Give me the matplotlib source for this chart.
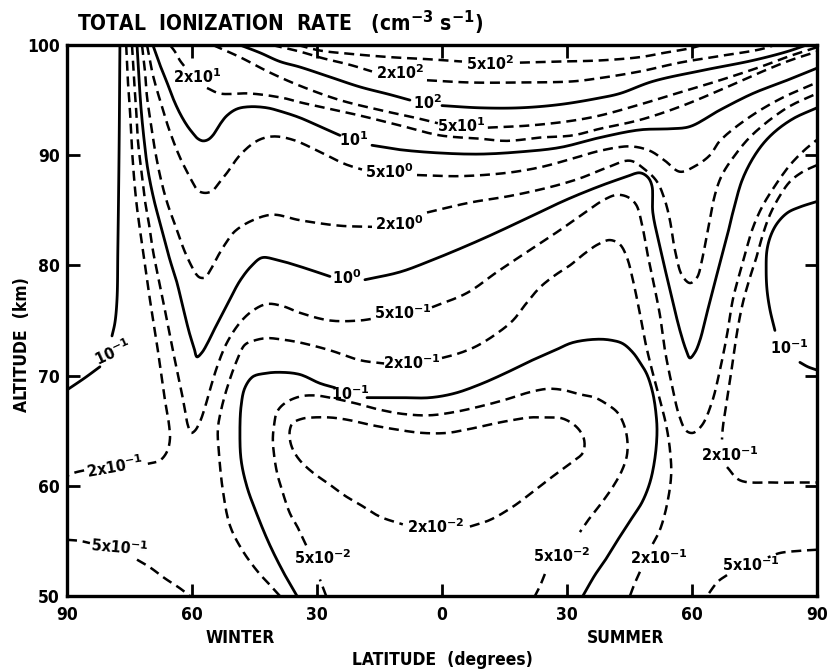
import numpy as np
import matplotlib
matplotlib.use("Agg")
import matplotlib.pyplot as plt
from matplotlib.font_manager import FontProperties

# Isolines of total ionization rate, traced as (latitude, altitude km).
# Negative latitude = winter hemisphere, positive = summer hemisphere.

iso_5e2_a = [(-34.6, 100.0), (-29.3, 99.5), (-22.1, 99.2), (-12.5, 98.9), (-2.9, 98.7), (4.8, 98.5)]
iso_5e2_b = [(18.7, 98.4), (28.3, 98.5), (37.9, 98.6), (47.5, 98.9), (53.5, 99.3), (59.5, 99.7), (62.4, 100.0)]

iso_2e2_a = [(-40.8, 100.0), (-34.1, 99.4), (-28.6, 98.8), (-22.1, 98.2), (-16.8, 97.6)]
iso_2e2_b = [(-3.6, 96.8), (6.7, 96.6), (18.7, 96.6), (31.4, 96.7), (37.9, 97.0), (47.5, 97.6),
             (57.1, 98.4), (66.7, 99.0), (76.3, 99.6), (79.9, 100.0)]

iso_1e2_a = [(-48.5, 100.0), (-43.7, 99.3), (-38.9, 98.5), (-34.1, 98.0), (-26.9, 97.1), (-19.7, 96.2),
             (-12.5, 95.5), (-7.7, 95.0)]
iso_1e2_b = [(0.0, 94.5), (9.1, 94.3), (18.7, 94.3), (28.3, 94.6), (37.9, 95.2), (42.7, 95.6), (50.6, 96.7),
             (62.6, 97.7), (74.6, 98.6), (82.8, 99.4), (87.5, 100.0)]

iso_5e1_a = [(-55.0, 100.0), (-48.5, 98.9), (-41.3, 97.5), (-34.1, 96.3), (-24.5, 95.0), (-14.9, 94.1),
             (-5.3, 93.3), (-1.0, 92.9)]
iso_5e1_b = [(11.0, 92.5), (21.1, 92.7), (30.7, 93.1), (37.9, 93.6), (47.5, 94.6), (57.1, 95.7), (66.7, 96.8),
             (76.3, 98.0), (83.5, 99.0), (90.0, 99.8)]

iso_2e1_a = [(-65.3, 100.0), (-64.1, 99.4), (-62.9, 98.6), (-61.9, 98.1)]
iso_2e1_b = [(-56.4, 96.1), (-53.3, 95.6), (-46.1, 95.6), (-38.2, 95.2), (-34.1, 94.8), (-26.9, 94.2),
             (-19.7, 93.6), (-10.1, 92.7), (-0.5, 91.8), (9.1, 91.5), (15.6, 91.3), (23.5, 91.6), (31.4, 91.8),
             (37.9, 92.4), (47.5, 93.2), (57.1, 94.4), (66.7, 95.9), (76.3, 97.5), (83.5, 98.6), (90.0, 99.4)]

iso_1e1_a = [(-69.4, 100.0), (-67.7, 98.2), (-66.0, 96.6), (-64.6, 95.2), (-62.9, 93.8), (-61.2, 92.7),
             (-59.8, 92.0), (-58.6, 91.5), (-57.4, 91.3), (-56.2, 91.4), (-55.0, 91.8), (-53.3, 92.8),
             (-51.6, 93.6), (-49.2, 94.2), (-46.1, 94.4), (-42.0, 94.3), (-38.9, 94.0), (-34.1, 93.4),
             (-29.3, 92.6), (-24.5, 91.8)]
iso_1e1_b = [(-16.8, 90.9), (-10.1, 90.5), (-0.5, 90.2), (9.1, 90.1), (18.7, 90.3), (28.3, 90.7), (37.9, 91.6),
             (47.5, 92.3), (54.7, 92.4), (59.5, 92.6), (66.7, 94.1), (74.6, 95.6), (82.8, 96.8), (90.0, 97.9)]

iso_5e0_a = [(-70.8, 100.0), (-70.1, 98.6), (-69.4, 97.3), (-68.4, 95.9), (-67.2, 94.4), (-66.0, 92.9),
             (-64.6, 91.4), (-62.9, 89.8), (-61.2, 88.5), (-59.8, 87.5), (-58.6, 86.8), (-57.4, 86.6),
             (-56.2, 86.6), (-55.0, 86.8), (-53.3, 87.6), (-51.6, 88.4), (-48.5, 90.0), (-44.4, 91.3),
             (-40.6, 91.7), (-35.8, 91.4), (-29.3, 90.3), (-23.3, 89.2), (-19.2, 88.7)]
iso_5e0_b = [(-6.0, 88.2), (4.3, 88.1), (15.6, 88.4), (23.5, 88.9), (31.4, 89.7), (37.9, 90.4), (45.1, 90.8),
             (49.9, 90.4), (53.5, 89.5), (57.1, 88.5), (60.7, 89.0), (64.3, 90.0), (66.7, 91.3), (73.2, 93.3),
             (81.1, 95.1), (90.0, 96.6)]

iso_2e0_a = [(-72.0, 100.0), (-71.3, 97.7), (-70.8, 95.3), (-69.8, 92.7), (-68.9, 90.5), (-67.4, 87.7),
             (-65.8, 85.5), (-63.8, 83.4), (-61.9, 81.4), (-60.2, 80.0), (-59.0, 79.2), (-58.1, 78.9),
             (-56.9, 78.9), (-55.7, 79.5), (-54.0, 80.7), (-52.1, 81.9), (-49.7, 83.1), (-45.4, 84.1),
             (-40.6, 84.6), (-34.1, 84.1), (-24.5, 83.6), (-16.8, 83.5)]
iso_2e0_b = [(-3.6, 84.8), (6.7, 85.7), (16.3, 86.3), (25.9, 87.1), (33.1, 87.9), (39.1, 88.8), (45.1, 89.5),
             (48.7, 88.7), (51.6, 87.6), (53.5, 85.9), (54.7, 84.1), (55.9, 81.4), (57.6, 79.1), (59.5, 78.4),
             (61.2, 78.9), (62.4, 80.5), (63.8, 83.2), (65.5, 86.4), (67.2, 88.2), (70.3, 90.0), (74.6, 91.9),
             (82.8, 94.3), (90.0, 95.6)]

iso_1e0_a = [(-73.2, 100.0), (-72.7, 96.8), (-72.2, 94.1), (-71.5, 91.4), (-70.6, 88.7), (-69.1, 85.9),
             (-67.2, 83.2), (-65.3, 80.5), (-63.8, 78.7), (-62.6, 76.9), (-61.4, 75.0), (-60.5, 73.7),
             (-59.5, 72.5), (-58.8, 71.7), (-57.6, 72.1), (-56.2, 73.0), (-54.5, 74.3), (-51.6, 76.4),
             (-48.5, 78.6), (-45.6, 80.0), (-43.2, 80.7), (-39.6, 80.5), (-34.1, 79.9), (-26.9, 79.0)]
iso_1e0_b = [(-18.5, 78.7), (-10.1, 79.4), (-2.9, 80.4), (9.1, 82.3), (21.1, 84.4), (29.5, 85.9), (37.9, 87.2),
             (43.9, 88.0), (47.5, 88.4), (49.4, 88.0), (50.4, 87.2), (50.6, 84.8), (52.3, 81.7), (54.7, 77.8),
             (57.1, 74.1), (58.6, 72.3), (59.5, 71.6), (60.7, 72.1), (61.9, 73.2), (63.6, 75.7), (65.3, 78.2),
             (66.7, 80.2), (68.4, 82.6), (69.8, 84.8), (72.2, 87.9), (75.6, 90.3), (79.2, 91.9), (84.2, 93.3),
             (90.0, 94.3)]

iso_5em1_a = [(-74.4, 100.0), (-73.9, 96.8), (-73.4, 94.1), (-73.0, 91.4), (-72.2, 88.7), (-71.3, 85.9),
              (-70.3, 83.7), (-69.4, 81.4), (-68.2, 79.1), (-67.0, 76.9), (-65.8, 74.6), (-64.6, 72.3),
              (-63.6, 70.5), (-62.6, 68.7), (-61.7, 66.9), (-61.0, 65.5), (-60.2, 64.8), (-59.3, 65.0),
              (-58.1, 65.8), (-56.9, 67.1), (-55.7, 68.7), (-53.8, 71.0), (-51.6, 73.0), (-48.5, 74.8),
              (-45.4, 75.9), (-42.0, 76.5), (-38.2, 76.3), (-34.1, 75.7), (-26.9, 75.0), (-19.7, 75.0),
              (-16.1, 75.2)]
iso_5em1_b = [(-2.4, 76.2), (6.0, 77.5), (13.2, 79.4), (21.1, 81.4), (28.3, 83.2), (34.3, 84.8), (39.1, 86.0),
              (42.0, 86.4), (44.6, 86.2), (46.6, 85.5), (48.0, 83.7), (49.4, 80.9), (50.9, 78.2), (52.3, 75.5),
              (53.5, 72.3), (55.2, 69.1), (56.9, 66.4), (58.6, 65.0), (60.2, 64.8), (62.4, 65.5), (64.8, 67.6),
              (66.7, 70.5), (68.4, 73.7), (69.8, 76.9), (71.3, 79.1), (73.0, 81.4), (74.6, 83.4), (76.8, 85.3),
              (79.7, 87.1), (83.5, 89.1), (87.1, 90.5), (90.0, 91.4)]
iso_5em1_c = [(-90.0, 55.1), (-86.9, 55.0), (-84.5, 54.8)]
iso_5em1_d = [(-73.2, 53.3), (-70.1, 52.6), (-66.5, 51.6), (-62.9, 50.7), (-60.5, 50.0)]
iso_5em1_e = [(90.0, 54.2), (85.9, 54.1), (81.1, 53.9), (78.2, 53.5)]
iso_5em1_f = [(68.4, 51.9), (66.2, 51.3), (63.6, 50.0)]

iso_2em1_a = [(-75.8, 100.0), (-75.4, 96.8), (-74.9, 94.1), (-74.4, 90.5), (-73.4, 85.9), (-71.8, 81.4),
              (-70.1, 76.9), (-68.2, 72.3), (-66.5, 67.8), (-65.5, 65.5), (-65.3, 64.2), (-66.0, 63.1),
              (-67.7, 62.3), (-70.6, 62.0)]
iso_2em1_b = [(-85.9, 61.4), (-88.1, 61.2), (-90.0, 60.9)]
iso_2em1_c = [(-38.9, 50.0), (-40.8, 50.8), (-44.2, 52.2), (-48.0, 54.2), (-50.9, 56.4), (-52.6, 59.6),
              (-53.5, 62.8), (-53.8, 65.1), (-53.0, 66.9), (-51.4, 69.1), (-49.2, 71.4), (-47.3, 72.8),
              (-44.9, 73.2), (-42.0, 73.4), (-38.9, 73.3), (-34.1, 73.0), (-26.9, 72.3), (-19.7, 71.4),
              (-13.9, 71.1)]
iso_2em1_d = [(0.0, 71.6), (3.1, 71.9), (7.9, 72.6), (12.7, 73.7), (17.0, 75.0), (19.9, 76.4), (23.5, 78.0),
              (27.1, 79.1), (30.7, 80.0), (34.3, 81.1), (37.4, 81.9), (40.3, 82.3), (42.7, 81.9), (44.4, 80.7),
              (45.8, 78.7), (47.3, 76.0), (48.7, 73.2), (50.4, 70.5), (52.3, 67.8), (53.8, 65.5), (54.7, 63.3),
              (55.0, 61.0), (54.0, 58.3), (52.3, 56.0), (50.4, 54.6)]
iso_2em1_e = [(47.5, 52.2), (46.1, 51.0), (45.1, 50.0)]
iso_2em1_f = [(90.0, 89.1), (86.6, 88.5), (83.5, 87.6), (80.9, 86.2), (78.7, 84.6), (77.0, 82.8), (75.6, 80.9),
              (73.9, 78.9), (72.2, 76.6), (70.8, 73.9), (69.6, 70.8), (68.4, 67.8), (67.4, 65.3), (67.2, 64.2)]
iso_2em1_g = [(68.4, 61.7), (71.5, 60.5), (79.4, 60.3), (85.9, 60.3), (90.0, 60.3)]

iso_1em1_a = [(-77.3, 100.0), (-77.5, 90.5), (-77.8, 81.4), (-78.0, 76.9), (-78.5, 74.8), (-79.2, 73.6)]
iso_1em1_b = [(-82.1, 70.8), (-85.7, 69.8), (-90.0, 68.7)]
iso_1em1_c = [(-34.8, 50.0), (-37.7, 51.9), (-41.3, 54.6), (-44.4, 57.4), (-46.8, 59.9), (-48.2, 62.3),
              (-48.5, 64.8), (-48.2, 67.3), (-47.3, 68.9), (-45.4, 69.9), (-42.5, 70.2), (-38.9, 70.3),
              (-34.1, 70.1), (-29.3, 69.3), (-25.7, 68.9)]
iso_1em1_d = [(-18.0, 68.0), (-10.1, 68.0), (-2.9, 68.0), (3.1, 68.4), (9.1, 69.2), (15.1, 70.2), (21.1, 71.3),
              (27.1, 72.3), (31.4, 73.0), (37.2, 73.3), (40.8, 73.2), (43.4, 72.9), (45.8, 72.1), (47.5, 71.2),
              (49.2, 70.1), (50.6, 68.4), (51.4, 66.4), (51.6, 64.8), (51.1, 62.5), (49.9, 60.3), (48.0, 58.5),
              (45.8, 57.2), (42.7, 55.4), (39.6, 53.5), (36.7, 51.9), (33.8, 50.0)]
iso_1em1_e = [(90.0, 85.8), (85.9, 85.3), (83.0, 84.8), (80.6, 83.9), (79.0, 82.8), (78.0, 81.4), (77.8, 79.6),
              (78.0, 77.8), (78.7, 76.0), (79.9, 74.1)]
iso_1em1_f = [(85.9, 71.2), (87.8, 70.8), (90.0, 70.5)]

iso_5em2_a = [(-27.8, 50.0), (-29.3, 51.5)]
iso_5em2_b = [(-32.6, 54.6), (-34.6, 56.2), (-36.5, 57.5), (-38.4, 59.6), (-39.6, 61.2), (-40.3, 62.8),
              (-40.6, 64.2), (-40.3, 65.5), (-39.6, 66.7), (-37.7, 67.5), (-34.1, 68.1), (-30.5, 68.2),
              (-26.9, 68.0), (-20.9, 67.5), (-14.9, 66.9), (-8.9, 66.5), (-2.9, 66.4), (3.1, 66.7), (9.1, 67.2),
              (15.1, 67.8), (21.1, 68.5), (25.4, 68.8), (29.0, 68.7), (33.1, 68.3), (36.7, 68.0), (39.6, 67.4),
              (42.0, 66.7), (43.4, 65.8), (44.4, 64.4), (44.4, 62.8), (43.2, 61.4), (41.0, 59.9), (38.2, 58.4),
              (35.5, 57.1), (33.1, 55.8)]
iso_5em2_c = [(24.7, 52.0), (23.5, 50.9), (22.3, 50.0)]

iso_2em2_a = [(6.7, 56.3), (11.5, 56.9), (17.0, 58.1), (22.3, 59.6), (27.1, 61.0), (31.4, 62.2), (33.8, 63.0),
              (34.1, 64.2), (32.4, 65.3), (29.0, 66.1), (25.4, 66.2), (21.1, 66.2), (17.5, 66.0), (13.2, 65.7),
              (7.2, 65.2), (1.2, 64.8), (-4.8, 64.8), (-10.8, 65.1), (-16.8, 65.5), (-22.8, 66.0), (-26.9, 66.2),
              (-31.0, 66.2), (-33.4, 66.1), (-35.8, 65.7), (-36.5, 65.1), (-36.5, 64.2), (-35.8, 63.3),
              (-34.1, 62.3), (-31.0, 61.2), (-26.9, 60.1), (-23.3, 59.1), (-19.7, 58.3), (-14.9, 57.2),
              (-9.4, 56.5)]

solid_lines = [iso_1e2_a, iso_1e2_b, iso_1e1_a, iso_1e1_b, iso_1e0_a, iso_1e0_b,
               iso_1em1_a, iso_1em1_b, iso_1em1_c, iso_1em1_d, iso_1em1_e, iso_1em1_f]
dashed_lines = [iso_5e2_a, iso_5e2_b, iso_2e2_a, iso_2e2_b, iso_5e1_a, iso_5e1_b, iso_2e1_a, iso_2e1_b,
                iso_5e0_a, iso_5e0_b, iso_2e0_a, iso_2e0_b,
                iso_5em1_a, iso_5em1_b, iso_5em1_c, iso_5em1_d, iso_5em1_e, iso_5em1_f,
                iso_2em1_a, iso_2em1_b, iso_2em1_c, iso_2em1_d, iso_2em1_e, iso_2em1_f, iso_2em1_g,
                iso_5em2_a, iso_5em2_b, iso_5em2_c, iso_2em2_a]

# in-line level labels
label_text = ["2x10$^{1}$", "2x10$^{2}$", "5x10$^{2}$", "10$^{2}$", "5x10$^{1}$", "10$^{1}$",
              "5x10$^{0}$", "2x10$^{0}$", "10$^{0}$", "5x10$^{-1}$", "2x10$^{-1}$", "10$^{-1}$",
              "2x10$^{-2}$", "5x10$^{-2}$", "5x10$^{-2}$", "2x10$^{-1}$", "5x10$^{-1}$",
              "2x10$^{-1}$", "10$^{-1}$", "10$^{-1}$", "2x10$^{-1}$", "5x10$^{-1}$"]
label_lat = [-58.8, -10.1, 11.5, -3.6, 4.6, -21.1, -12.7, -10.3, -22.8, -9.4, -7.2, -22.1,
             -1.4, -28.6, 28.8, 52.1, 74.2, 69.1, 83.3, -79.0, -78.5, -77.3]
label_alt = [97.1, 97.5, 98.3, 94.8, 92.7, 91.4, 88.5, 83.8, 78.9, 75.7, 71.2, 68.4,
             56.3, 53.5, 53.7, 53.5, 52.8, 62.8, 72.5, 72.1, 61.7, 54.4]
label_rot = [0, 0, 0, 0, 0, 0, 0, 0, 0, 0, 0, 0,
             0, 0, 0, 0, 0, 0, 0, 25, 10, -5]

xtick_vals = [-90, -60, -30, 0, 30, 60, 90]
xtick_text = ["90", "60", "30", "0", "30", "60", "90"]
ytick_vals = [50, 60, 70, 80, 90, 100]

plt.rcParams["mathtext.fontset"] = "custom"
plt.rcParams["mathtext.rm"] = "DejaVu Sans:bold"
plt.rcParams["mathtext.bf"] = "DejaVu Sans:bold"
plt.rcParams["mathtext.default"] = "bf"

W, H = 827, 671
fig = plt.figure(figsize=(W / 100, H / 100), dpi=100)
ax = fig.add_axes([67 / W, 75 / H, 750 / W, 551 / H])
ax.set_xlim(-90, 90)
ax.set_ylim(50, 100)


def fp(size):
    return FontProperties(family="DejaVu Sans", weight="bold", stretch="condensed", size=size)


def smooth_path(pts, n=10, alpha=0.5):
    """Centripetal Catmull-Rom curve through the traced points (drawing only)."""
    scale = np.array([4.17, 11.02])  # roughly equal screen units in x and y
    P = np.asarray(pts, float) * scale
    if len(P) < 3:
        return P / scale
    P = np.vstack([2 * P[0] - P[1], P, 2 * P[-1] - P[-2]])
    out = []
    for i in range(1, len(P) - 2):
        p0, p1, p2, p3 = P[i - 1], P[i], P[i + 1], P[i + 2]
        t0 = 0.0
        t1 = t0 + np.linalg.norm(p1 - p0) ** alpha
        t2 = t1 + np.linalg.norm(p2 - p1) ** alpha
        t3 = t2 + np.linalg.norm(p3 - p2) ** alpha
        t = np.linspace(t1, t2, n, endpoint=False)[:, None]
        a1 = (t1 - t) / (t1 - t0) * p0 + (t - t0) / (t1 - t0) * p1
        a2 = (t2 - t) / (t2 - t1) * p1 + (t - t1) / (t2 - t1) * p2
        a3 = (t3 - t) / (t3 - t2) * p2 + (t - t2) / (t3 - t2) * p3
        b1 = (t2 - t) / (t2 - t0) * a1 + (t - t0) / (t2 - t0) * a2
        b2 = (t3 - t) / (t3 - t1) * a2 + (t - t1) / (t3 - t1) * a3
        out.append((t2 - t) / (t2 - t1) * b1 + (t - t1) / (t2 - t1) * b2)
    out.append(P[-2][None, :])
    return np.vstack(out) / scale


solid_kw = dict(color="black", lw=2.0, solid_capstyle="round", solid_joinstyle="round")
dash_kw = dict(color="black", lw=1.8, dashes=(4, 2.3), dash_capstyle="butt", dash_joinstyle="round")

for pts in solid_lines:
    c = smooth_path(pts)
    ax.plot(c[:, 0], c[:, 1], **solid_kw)
for pts in dashed_lines:
    c = smooth_path(pts)
    ax.plot(c[:, 0], c[:, 1], **dash_kw)

for t, x, y, r in zip(label_text, label_lat, label_alt, label_rot):
    ax.text(x, y, t, ha="center", va="center", rotation=r, fontproperties=fp(11.5))

ax.set_xticks(xtick_vals)
ax.set_xticklabels(xtick_text)
ax.set_yticks(ytick_vals)
for lab in ax.get_xticklabels() + ax.get_yticklabels():
    lab.set_fontproperties(fp(12.5))
ax.tick_params(direction="in", length=9, width=2.0, top=True, right=True)
ax.tick_params(axis="x", pad=7)
ax.tick_params(axis="y", pad=5)
for sp in ax.spines.values():
    sp.set_linewidth(2.4)

fig.text(77 / W, 1 - 23 / H, "TOTAL  IONIZATION  RATE   (cm$^{-3}$ s$^{-1}$)",
         ha="left", va="center", fontproperties=fp(15))
fig.text(22 / W, 1 - 345 / H, "ALTITUDE  (km)", rotation=90, ha="center", va="center",
         fontproperties=fp(12.5))
fig.text(442 / W, 1 - 660 / H, "LATITUDE  (degrees)", ha="center", va="center", fontproperties=fp(12.5))
fig.text(240 / W, 1 - 638 / H, "WINTER", ha="center", va="center", fontproperties=fp(12.5))
fig.text(626 / W, 1 - 638 / H, "SUMMER", ha="center", va="center", fontproperties=fp(12.5))

fig.savefig("out.png", dpi=100)
